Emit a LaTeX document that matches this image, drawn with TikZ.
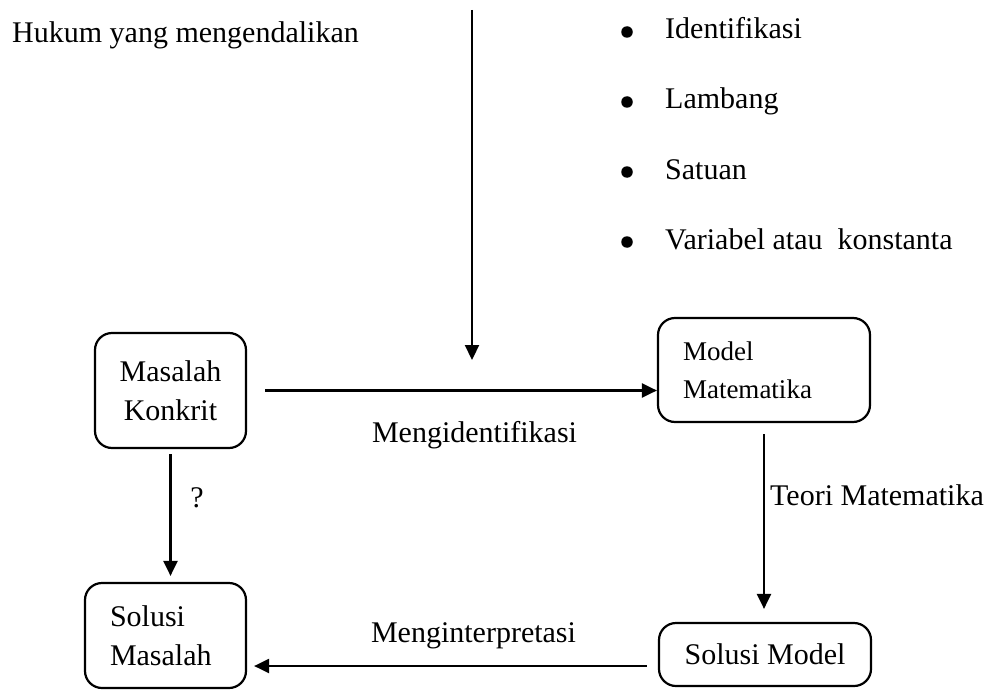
\documentclass[tikz,border=0pt]{standalone}
\usepackage{fontspec}
\setmainfont{Liberation Serif}
\usetikzlibrary{arrows.meta}

\begin{document}
\begin{tikzpicture}
[   x=1pt,y=-1pt,
    box/.style={draw=black,line width=2.2pt,rounded corners=17pt,minimum width=#1},
    txt/.style={font=\fontsize{30}{39}\selectfont},
    lbl/.style={txt,inner sep=0pt,anchor=base west},
    arr/.style={line width=2.2pt,-{Triangle[length=15pt,width=14pt]}},
    dot/.style={fill=black,circle,inner sep=0pt,minimum size=11.5pt},
]
    %
    \useasboundingbox (0,0) rectangle (990,690);

    \node[box=151pt,txt,minimum height=115pt,align=center] (masalah) at (170.5,390.5) {Masalah\\Konkrit};
    \node[box=212pt,font=\fontsize{27}{38}\selectfont,minimum height=104pt,inner xsep=25pt,text width=162pt,align=left] (model) at (764,370) {Model\\Matematika};
    \node[box=161pt,txt,minimum height=105pt,inner xsep=25pt,text width=111pt,align=left] (solmas) at (165.5,635.5) {Solusi\\Masalah};
    \node[box=212pt,txt,minimum height=63pt] (solmod) at (765,654.5) {Solusi Model};

    \node[lbl] (hukum) at (12,43) {Hukum yang mengendalikan};
    \coordinate (hukumtop) at (472,10);
    \coordinate (hukumend) at (472,360);
    \draw[arr] (hukumtop) -- (hukumend);

    \foreach \t [count=\i] in {Identifikasi,Lambang,Satuan,Variabel atau\ \ konstanta}
    {
        \node[dot] (d-\i) at (627,{70*\i-38}) {};
        \node[lbl] (item-\i) at (665,{70*\i-31}) {\t};
    }

    \draw[arr,shorten <=18pt] (masalah.east) -- (masalah.east -| model.west);
    \node[lbl,anchor=base] (ident) at (474.5,442) {Mengidentifikasi};

    \draw[arr,shorten <=5pt,shorten >=6pt] (masalah.south) -- (masalah.south |- solmas.north);
    \node[lbl,anchor=base] (tanya) at (197,507) {?};

    \draw[arr,shorten <=11pt,shorten >=13pt] (model.south) -- (model.south |- solmod.north);
    \node[lbl] (teori) at (770,505) {Teori Matematika};

    \coordinate (interp) at ([yshift=-11.5pt]solmod.west);
    \draw[arr,shorten <=11pt,shorten >=7pt] (interp) -- (interp -| solmas.east);
    \node[lbl,anchor=base] (menginterp) at (473.5,642) {Menginterpretasi};
\end{tikzpicture}
\end{document}
